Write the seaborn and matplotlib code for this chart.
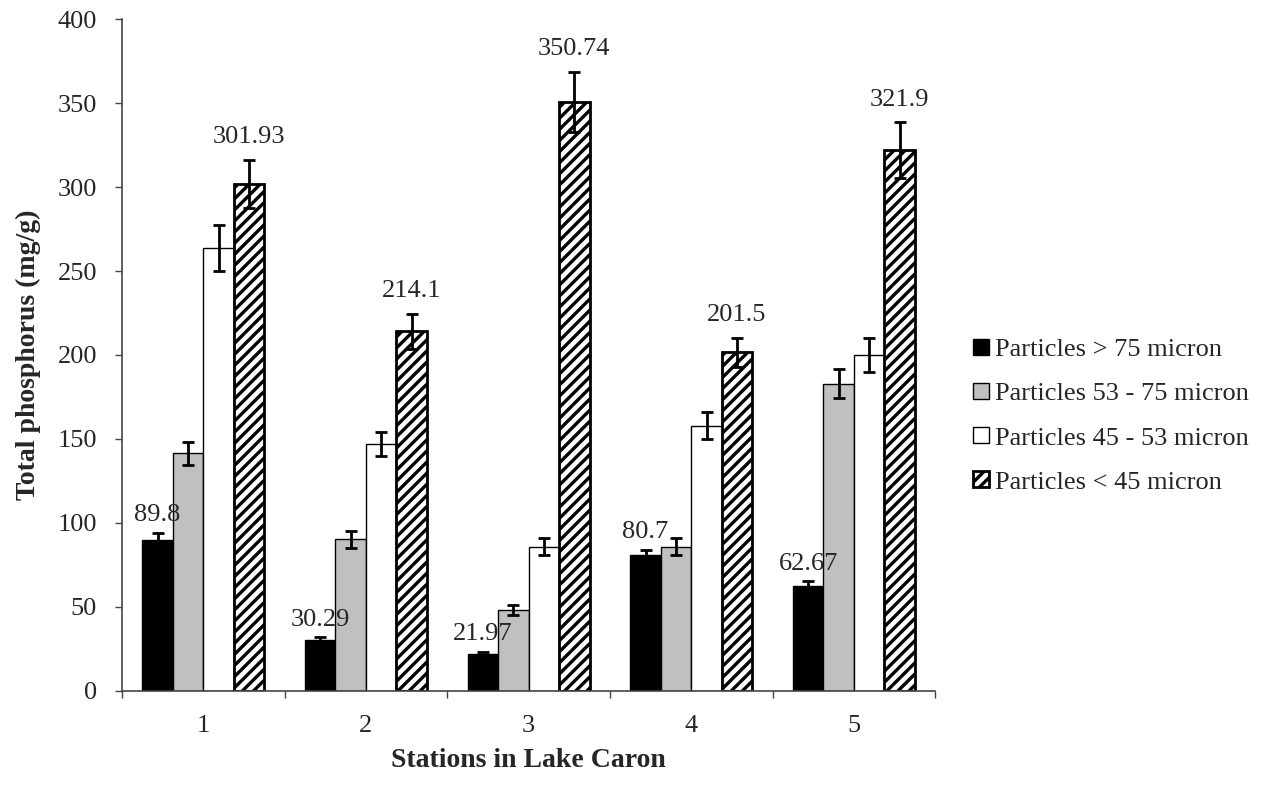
import numpy as np
import pandas as pd
import matplotlib
matplotlib.use("Agg")
import matplotlib.pyplot as plt
import seaborn as sns

# ---- data ----
stations = ["1", "2", "3", "4", "5"]
series = ["Particles > 75 micron", "Particles 53 - 75 micron",
          "Particles 45 - 53 micron", "Particles < 45 micron"]
vals_gt75 = [89.8, 30.29, 21.97, 80.7, 62.67]
vals_53_75 = [141.5, 90.2, 48.0, 86.0, 183.0]
vals_45_53 = [263.6, 147.2, 86.0, 158.0, 199.9]
vals_lt45 = [301.93, 214.1, 350.74, 201.5, 321.9]
err_gt75 = [4.5, 1.6, 1.3, 3.5, 2.6]
err_53_75 = [6.7, 4.8, 3.0, 5.0, 8.8]
err_45_53 = [13.7, 7.2, 5.0, 8.0, 10.1]
err_lt45 = [14.4, 10.3, 17.9, 8.5, 16.5]
labels_gt75 = ["89.8", "30.29", "21.97", "80.7", "62.67"]
labels_lt45 = ["301.93", "214.1", "350.74", "201.5", "321.9"]
y_ticks = [0, 50, 100, 150, 200, 250, 300, 350, 400]

all_vals = [vals_gt75, vals_53_75, vals_45_53, vals_lt45]
all_errs = [err_gt75, err_53_75, err_45_53, err_lt45]

df = pd.DataFrame({
    "station": stations * 4,
    "series": [s for s in series for _ in stations],
    "value": vals_gt75 + vals_53_75 + vals_45_53 + vals_lt45,
})

sns.set_theme(style="white")
plt.rcParams["font.family"] = ["Liberation Serif", "DejaVu Serif"]
plt.rcParams["hatch.linewidth"] = 2.4

fig = plt.figure(figsize=(12.69, 7.99), dpi=100)
ax = fig.add_axes([0.0961, 0.1352, 0.737 - 0.0961, 0.9762 - 0.1352])

colors = ["#000000", "#c0c0c0", "#ffffff", "#ffffff"]
sns.barplot(data=df, x="station", y="value", hue="series",
            order=stations, hue_order=series, palette=colors,
            width=0.75, gap=0, errorbar=None, edgecolor="black",
            linewidth=1.0, ax=ax, legend=False, saturation=1)

bar_containers = list(ax.containers)
for i, cont in enumerate(bar_containers):
    for b in cont:
        if i == 3:
            b.set_hatch("///")
            b.set_linewidth(2.0)
        b.set_edgecolor("black")

for i, cont in enumerate(bar_containers):
    xs = [b.get_x() + b.get_width() / 2 for b in cont]
    ax.errorbar(xs, all_vals[i], yerr=all_errs[i], fmt="none", ecolor="black",
                elinewidth=2.0, capsize=4.5, capthick=2.0, zorder=5)

# value labels
for b, v, e, t in zip(bar_containers[0], vals_gt75, err_gt75, labels_gt75):
    ax.text(b.get_x() + b.get_width() / 2, v + e + 7, t, ha="center",
            va="baseline", fontsize=19, zorder=6)
for b, v, e, t in zip(bar_containers[3], vals_lt45, err_lt45, labels_lt45):
    ax.text(b.get_x() + b.get_width() / 2, v + e + 10, t, ha="center",
            va="baseline", fontsize=19, zorder=6)

ax.set_ylim(0, 400)
ax.set_xlim(-0.5, 4.5)
ax.set_yticks(y_ticks)
ax.set_yticklabels([str(t) for t in y_ticks], fontsize=19)
ax.set_xticks(range(len(stations)))
ax.set_xticklabels(stations, fontsize=19)
ax.set_xticks(np.arange(-0.5, 5.0, 1.0), minor=True)
ax.tick_params(axis="x", which="major", length=0, pad=17)
ax.tick_params(axis="x", which="minor", length=5, width=1, color="#444444",
               direction="out", bottom=True)
ax.tick_params(axis="y", which="major", length=5, width=1, color="#444444",
               direction="out", left=True, pad=13)

for s in ["top", "right"]:
    ax.spines[s].set_visible(False)
for s in ["left", "bottom"]:
    ax.spines[s].set_color("#444444")
    ax.spines[s].set_linewidth(1.2)

ax.set_xlabel("Stations in Lake Caron", fontsize=20, fontweight="bold",
              labelpad=8)
ax.set_ylabel("Total phosphorus (mg/g)", fontsize=20, fontweight="bold",
              labelpad=12)

ax.legend(handles=bar_containers, labels=series, loc="center left",
          bbox_to_anchor=(0.7667, 0.479), bbox_transform=fig.transFigure,
          frameon=False, fontsize=19, handlelength=0.6, handleheight=0.55,
          handletextpad=0.25, labelspacing=0.83, borderpad=0, borderaxespad=0)

fig.savefig("out.png", dpi=100)
